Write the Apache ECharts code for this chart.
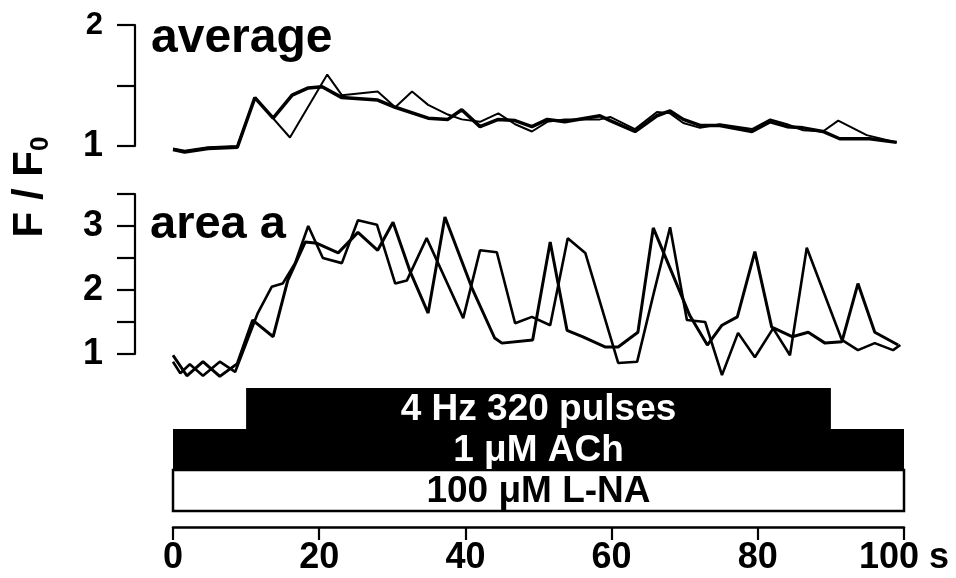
<!DOCTYPE html>
<html>
<head>
<meta charset="utf-8">
<script src="https://cdn.jsdelivr.net/npm/echarts@6/dist/echarts.min.js"></script>
<style>
html,body{margin:0;padding:0;background:#fff;}
#c{width:956px;height:578px;}
</style>
</head>
<body>
<div id="c"></div>
<script>
// ---------- data ----------
// top panel "average": thick and thin traces (time in s, F/F0)
const avgThickT = [0, 1.6, 4.8, 8.8, 11.2, 13.7, 16.3, 18.5, 20.4, 23.1, 28.0, 30.4, 34.9, 37.6, 39.5, 42.0, 44.5, 46.8, 49.1, 51.2, 53.6, 58.4, 59.8, 63.2, 66.2, 68.0, 69.8, 72.1, 74.8, 79.2, 81.7, 84.0, 86.2, 88.9, 91.2, 95.3, 99.0];
const avgThickF = [0.97, 0.95, 0.98, 0.99, 1.40, 1.23, 1.42, 1.48, 1.49, 1.40, 1.38, 1.32, 1.23, 1.22, 1.30, 1.16, 1.22, 1.21, 1.16, 1.22, 1.20, 1.25, 1.21, 1.12, 1.25, 1.29, 1.22, 1.17, 1.17, 1.12, 1.20, 1.16, 1.15, 1.12, 1.06, 1.06, 1.03];
const avgThinT = [0, 1.6, 4.8, 8.8, 11.2, 16.0, 21.1, 23.1, 28.0, 30.4, 32.7, 34.9, 37.6, 39.5, 42.0, 44.5, 46.8, 49.1, 51.2, 53.6, 58.4, 59.8, 63.2, 66.2, 68.0, 69.8, 72.1, 74.8, 79.2, 81.7, 84.0, 86.2, 88.9, 91.0, 94.9, 99.0];
const avgThinF = [0.98, 0.96, 0.99, 1.00, 1.40, 1.07, 1.59, 1.42, 1.45, 1.32, 1.45, 1.34, 1.26, 1.22, 1.20, 1.27, 1.18, 1.12, 1.20, 1.22, 1.22, 1.24, 1.14, 1.28, 1.27, 1.19, 1.15, 1.18, 1.14, 1.22, 1.18, 1.13, 1.12, 1.21, 1.09, 1.03];
// bottom panel "area a"
const areaAT = [0, 1.9, 4.1, 6.4, 8.8, 10.9, 13.7, 15.7, 18.1, 19.7, 22.6, 25.3, 28.0, 30.1, 32.4, 34.9, 37.2, 40.9, 44.0, 45.0, 49.2, 51.6, 53.9, 56.0, 59.1, 60.9, 63.6, 65.7, 70.7, 73.1, 75.1, 77.2, 79.6, 81.9, 84.7, 86.9, 89.2, 91.5, 93.7, 96.0, 99.2];
const areaAF = [0.98, 0.66, 0.88, 0.65, 0.85, 1.53, 1.27, 2.15, 2.75, 2.73, 2.58, 2.90, 2.62, 3.06, 2.30, 1.64, 3.14, 2.03, 1.25, 1.17, 1.22, 2.75, 1.37, 1.27, 1.11, 1.11, 1.34, 2.97, 1.60, 1.14, 1.45, 1.58, 2.60, 1.42, 1.27, 1.34, 1.17, 1.19, 2.10, 1.34, 1.14];
const areaBT = [0, 1.0, 2.3, 4.1, 6.4, 8.5, 11.6, 13.5, 15.0, 16.7, 18.5, 20.5, 23.1, 25.3, 27.9, 30.4, 32.0, 34.7, 39.7, 42.0, 44.3, 46.8, 49.1, 51.6, 54.0, 56.4, 60.9, 63.5, 65.7, 68.0, 70.3, 72.8, 75.1, 77.3, 79.6, 82.1, 84.4, 86.7, 91.5, 93.7, 96.0, 98.5, 99.5];
const areaBF = [0.88, 0.70, 0.84, 0.66, 0.88, 0.72, 1.64, 2.05, 2.10, 2.42, 3.00, 2.50, 2.42, 3.09, 3.02, 2.10, 2.15, 2.81, 1.56, 2.62, 2.59, 1.48, 1.58, 1.45, 2.81, 2.58, 0.86, 0.88, 1.92, 2.98, 1.53, 1.50, 0.67, 1.33, 0.95, 1.40, 0.98, 2.66, 1.22, 1.06, 1.17, 1.06, 1.14];
// stimulus / drug application bars
const stimLabels = ['100 \u03bcM L-NA', '1 \u03bcM ACh', '4 Hz 320 pulses'];
const stimStart = [0, 0, 10];
const stimEnd = [100, 100, 90];
// tick labels
const xTicks = [0, 20, 40, 60, 80, 100];

// ---------- styles ----------
const FONT = "'Liberation Sans', Arial, Helvetica, sans-serif";
const stimFill = ['#ffffff', '#000000', '#000000'];
const stimText = ['#000000', '#ffffff', '#ffffff'];

function pairs(t, f) { return t.map((v, i) => [v, f[i]]); }

const chart = echarts.init(document.getElementById('c'), null, { renderer: 'canvas' });

const L = 173, R = 956 - 904;
const yAxisCommon = {
  type: 'value', interval: 0.5, offset: 38, position: 'left',
  axisLine: { show: true, onZero: false, lineStyle: { color: '#000', width: 2.2 } },
  axisTick: { show: true, inside: false, length: 18, lineStyle: { color: '#000', width: 2.2 } },
  splitLine: { show: false },
  axisLabel: { color: '#000', fontFamily: FONT, fontWeight: 'bold', fontSize: 36, margin: 32 }
};

const option = {
  animation: false,
  backgroundColor: '#fff',
  grid: [
    { left: L, right: R, top: 25, height: 121 },
    { left: L, right: R, top: 194, height: 160 },
    { left: L, right: R, top: 388, height: 123 }
  ],
  xAxis: [
    { gridIndex: 0, type: 'value', min: 0, max: 100, show: false },
    { gridIndex: 1, type: 'value', min: 0, max: 100, show: false },
    {
      gridIndex: 2, type: 'value', min: 0, max: 100, interval: 20, position: 'bottom', offset: 16,
      axisLine: { show: true, onZero: false, lineStyle: { color: '#000', width: 2.5 } },
      axisTick: { show: true, length: 13, lineStyle: { color: '#000', width: 2.2 } },
      splitLine: { show: false },
      axisLabel: {
        color: '#000', fontFamily: FONT, fontWeight: 'bold', fontSize: 36, margin: 13,
        formatter: v => (v === xTicks[xTicks.length - 1] ? v + ' s' : String(v))
      }
    }
  ],
  yAxis: [
    Object.assign({}, yAxisCommon, {
      gridIndex: 0, min: 1, max: 2,
      axisLabel: Object.assign({}, yAxisCommon.axisLabel, {
        formatter: v => (v === 2 ? '{s|2}' : (v === 1 ? '1' : '')),
        rich: { s: { fontSize: 31, fontWeight: 'bold', fontFamily: FONT, color: '#000' } }
      })
    }),
    Object.assign({}, yAxisCommon, {
      gridIndex: 1, min: 1, max: 3.5,
      axisLabel: Object.assign({}, yAxisCommon.axisLabel, {
        formatter: v => (Number.isInteger(v) ? String(v) : '')
      })
    }),
    { gridIndex: 2, type: 'category', data: stimLabels, show: false }
  ],
  title: [
    { text: 'average', left: 151, top: 15, padding: 0,
      textStyle: { fontFamily: FONT, fontWeight: 'bold', fontSize: 48, color: '#000' } },
    { text: 'area a', left: 150, top: 202, padding: 0,
      textStyle: { fontFamily: FONT, fontWeight: 'bold', fontSize: 47, color: '#000' } }
  ],
  graphic: [
    {
      type: 'text', x: 30, y: 187, rotation: Math.PI / 2,
      style: {
        text: 'F / F{s|0}', align: 'center', verticalAlign: 'middle',
        font: "bold 42px " + FONT, fill: '#000',
        rich: { s: { font: "bold 26px " + FONT, fill: '#000', padding: [22, 0, 0, 0] } }
      }
    }
  ],
  series: [
    { type: 'line', xAxisIndex: 0, yAxisIndex: 0, data: pairs(avgThinT, avgThinF), showSymbol: false,
      clip: false, lineStyle: { color: '#000', width: 2 } },
    { type: 'line', xAxisIndex: 0, yAxisIndex: 0, data: pairs(avgThickT, avgThickF), showSymbol: false,
      clip: false, lineStyle: { color: '#000', width: 3.5 } },
    { type: 'line', xAxisIndex: 1, yAxisIndex: 1, data: pairs(areaBT, areaBF), showSymbol: false,
      clip: false, lineStyle: { color: '#000', width: 2.6 } },
    { type: 'line', xAxisIndex: 1, yAxisIndex: 1, data: pairs(areaAT, areaAF), showSymbol: false,
      clip: false, lineStyle: { color: '#000', width: 3 } },
    {
      type: 'custom', xAxisIndex: 2, yAxisIndex: 2, clip: false,
      data: stimLabels.map((lab, i) => [stimStart[i], stimEnd[i], i]),
      encode: { x: [0, 1], y: 2 },
      renderItem: function (params, api) {
        const i = api.value(2);
        const p0 = api.coord([api.value(0), i]);
        const p1 = api.coord([api.value(1), i]);
        const h = api.size([0, 1])[1];
        const white = stimFill[i] === '#ffffff';
        return {
          type: 'group',
          children: [
            { type: 'rect',
              shape: { x: p0[0], y: p0[1] - h / 2, width: p1[0] - p0[0], height: h },
              style: { fill: stimFill[i], stroke: '#000', lineWidth: white ? 2.5 : 0 } },
            { type: 'text',
              style: { text: stimLabels[i], x: (p0[0] + p1[0]) / 2, y: p0[1] + 1,
                align: 'center', verticalAlign: 'middle', fill: stimText[i],
                font: 'bold 37px ' + FONT } }
          ]
        };
      }
    }
  ]
};
chart.setOption(option);
</script>
</body>
</html>
